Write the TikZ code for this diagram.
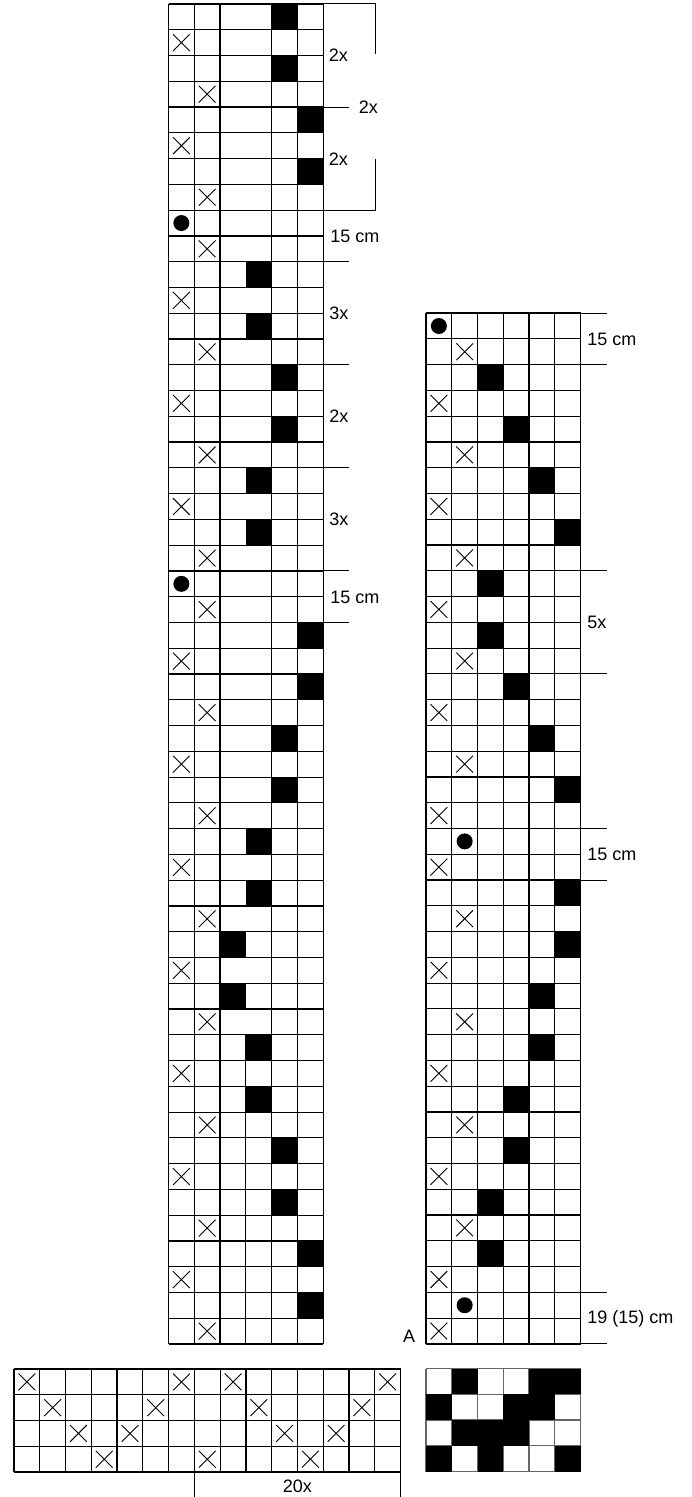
\documentclass[tikz,border=0pt]{standalone}
\usepackage{fontspec}
\setmainfont{Liberation Sans}
\newcommand\cs{25.77}
% black cell: origin x, origin y, row, col
\newcommand\blk[4]{\fill[black] ({#1+(#4-1)*\cs},{#2+(#3-1)*\cs}) rectangle ++(\cs,\cs);}
\newcommand\xcell[4]{\draw[xmark] ({#1+(#4-1)*\cs+4.5},{#2+(#3-1)*\cs+4.5}) -- ++({\cs-9},{\cs-9})
  ({#1+(#4-1)*\cs+4.5},{#2+#3*\cs-4.5}) -- ++({\cs-9},{-\cs+9});}
\newcommand\dcell[4]{\fill[black] ({#1+(#4-0.5)*\cs},{#2+(#3-0.5)*\cs}) circle (8);}
\begin{document}
\begin{tikzpicture}[x=0.5pt,y=-0.5pt,
  gridline/.style={line width=0.6pt,black},
  xmark/.style={line width=0.45pt,black},
  brk/.style={line width=0.5pt,black},
  lbl/.style={font=\fontsize{9pt}{10pt}\selectfont,inner sep=0pt,anchor=base west},
  lblc/.style={font=\fontsize{9pt}{10pt}\selectfont,inner sep=0pt,anchor=base}]
\useasboundingbox (0,0) rectangle (691,1497);

% ---------------- left grid ----------------
\def\lx{168.5}\def\ly{4}
\foreach \r/\c in {1/5,3/5,5/6,7/6,11/4,13/4,15/5,17/5,19/4,21/4,25/6,27/6,29/5,31/5,33/4,35/4,37/3,39/3,41/4,43/4,45/5,47/5,49/6,51/6}
  {\blk{\lx}{\ly}{\r}{\c}}
\foreach \r in {0,...,52} \draw[gridline] (\lx,{\ly+\r*\cs}) -- ({\lx+6*\cs},{\ly+\r*\cs});
\foreach \c in {0,1,2,4,5,6} \draw[gridline] ({\lx+\c*\cs},\ly) -- ({\lx+\c*\cs},{\ly+52*\cs});
\draw[gridline] ({\lx+3*\cs},{\ly+40*\cs}) -- ({\lx+3*\cs},{\ly+52*\cs});
\foreach \r/\c in {2/1,4/2,6/1,8/2,10/2,12/1,14/2,16/1,18/2,20/1,22/2,24/2,26/1,28/2,30/1,32/2,34/1,36/2,38/1,40/2,42/1,44/2,46/1,48/2,50/1,52/2}
  {\xcell{\lx}{\ly}{\r}{\c}}
\dcell{\lx}{\ly}{9}{1}
\dcell{\lx}{\ly}{23}{1}

% left annotations
\draw[brk] ({\lx+6*\cs},\ly) -- (375,\ly) -- (375,54);
\draw[brk] (375,159) -- (375,{\ly+8*\cs}) -- ({\lx+6*\cs},{\ly+8*\cs});
\foreach \r in {4,10,14,18,22,24}
  \draw[brk] ({\lx+6*\cs},{\ly+\r*\cs}) -- (349,{\ly+\r*\cs});
\node[lbl] (la) at (328.5,{\ly+2*\cs+6.45}) {2x};
\node[lbl] (lb) at (358.5,{\ly+4*\cs+6.45}) {2x};
\node[lbl] (lc) at (328.5,{\ly+6*\cs+6.45}) {2x};
\node[lbl] (ld) at (330,{\ly+9*\cs+6.45}) {15 cm};
\node[lbl] (le) at (329,{\ly+12*\cs+6.45}) {3x};
\node[lbl] (lf) at (329,{\ly+16*\cs+6.45}) {2x};
\node[lbl] (lg) at (329,{\ly+20*\cs+6.45}) {3x};
\node[lbl] (lh) at (330,{\ly+23*\cs+6.45}) {15 cm};

% ---------------- right grid ----------------
\def\rx{426}\def\ry{313.1}
\foreach \r/\c in {3/3,5/4,7/5,9/6,11/3,13/3,15/4,17/5,19/6,23/6,25/6,27/5,29/5,31/4,33/4,35/3,37/3}
  {\blk{\rx}{\ry}{\r}{\c}}
\foreach \r in {0,...,40} \draw[gridline] (\rx,{\ry+\r*\cs}) -- ({\rx+6*\cs},{\ry+\r*\cs});
\foreach \c in {0,...,6} \draw[gridline] ({\rx+\c*\cs},\ry) -- ({\rx+\c*\cs},{\ry+40*\cs});
\foreach \r/\c in {2/2,4/1,6/2,8/1,10/2,12/1,14/2,16/1,18/2,20/1,22/1,24/2,26/1,28/2,30/1,32/2,34/1,36/2,38/1,40/1}
  {\xcell{\rx}{\ry}{\r}{\c}}
\dcell{\rx}{\ry}{1}{1}
\dcell{\rx}{\ry}{21}{2}
\dcell{\rx}{\ry}{39}{2}

\foreach \r in {0,2,10,14,20,22,38,40}
  \draw[brk] ({\rx+6*\cs},{\ry+\r*\cs}) -- (606.7,{\ry+\r*\cs});
\node[lbl] (ra) at (587,{\ry+1*\cs+6.45}) {15 cm};
\node[lbl] (rb) at (587,{\ry+12*\cs+6.45}) {5x};
\node[lbl] (rc) at (587,{\ry+21*\cs+6.45}) {15 cm};
\node[lbl] (rd) at (587,{\ry+39*\cs+5.5}) {19 (15) cm};
\node[lblc] (ra2) at (409,{\ry+39.7*\cs+6.45}) {A};

% ---------------- bottom strip ----------------
\def\sx{14}\def\sy{1369}
\foreach \r in {0,...,4} \draw[gridline] (\sx,{\sy+\r*\cs}) -- ({\sx+15*\cs},{\sy+\r*\cs});
\foreach \c in {0,...,15} \draw[gridline] ({\sx+\c*\cs},\sy) -- ({\sx+\c*\cs},{\sy+4*\cs});
\foreach \r/\c in {1/1,1/7,1/9,1/15,2/2,2/6,2/10,2/14,3/3,3/5,3/11,3/13,4/4,4/8,4/12}
  {\xcell{\sx}{\sy}{\r}{\c}}
\draw[brk] ({\sx+7*\cs},{\sy+4*\cs}) -- ({\sx+7*\cs},1497);
\draw[brk] ({\sx+15*\cs},{\sy+4*\cs}) -- ({\sx+15*\cs},1497);
\node[lblc] (sa) at ({\sx+11*\cs},{1486+6.45}) {20x};

% ---------------- small colour chart ----------------
\def\kx{426}\def\ky{1368.5}
\foreach \r in {0,...,4} \draw[gridline,black!60] (\kx,{\ky+\r*\cs}) -- ({\kx+6*\cs},{\ky+\r*\cs});
\foreach \c in {0,...,6} \draw[gridline,black!60] ({\kx+\c*\cs},\ky) -- ({\kx+\c*\cs},{\ky+4*\cs});
\foreach \r/\c in {1/2,1/5,1/6,2/1,2/4,2/5,3/2,3/3,3/4,4/1,4/3,4/6}
  {\blk{\kx}{\ky}{\r}{\c}}
\end{tikzpicture}
\end{document}
